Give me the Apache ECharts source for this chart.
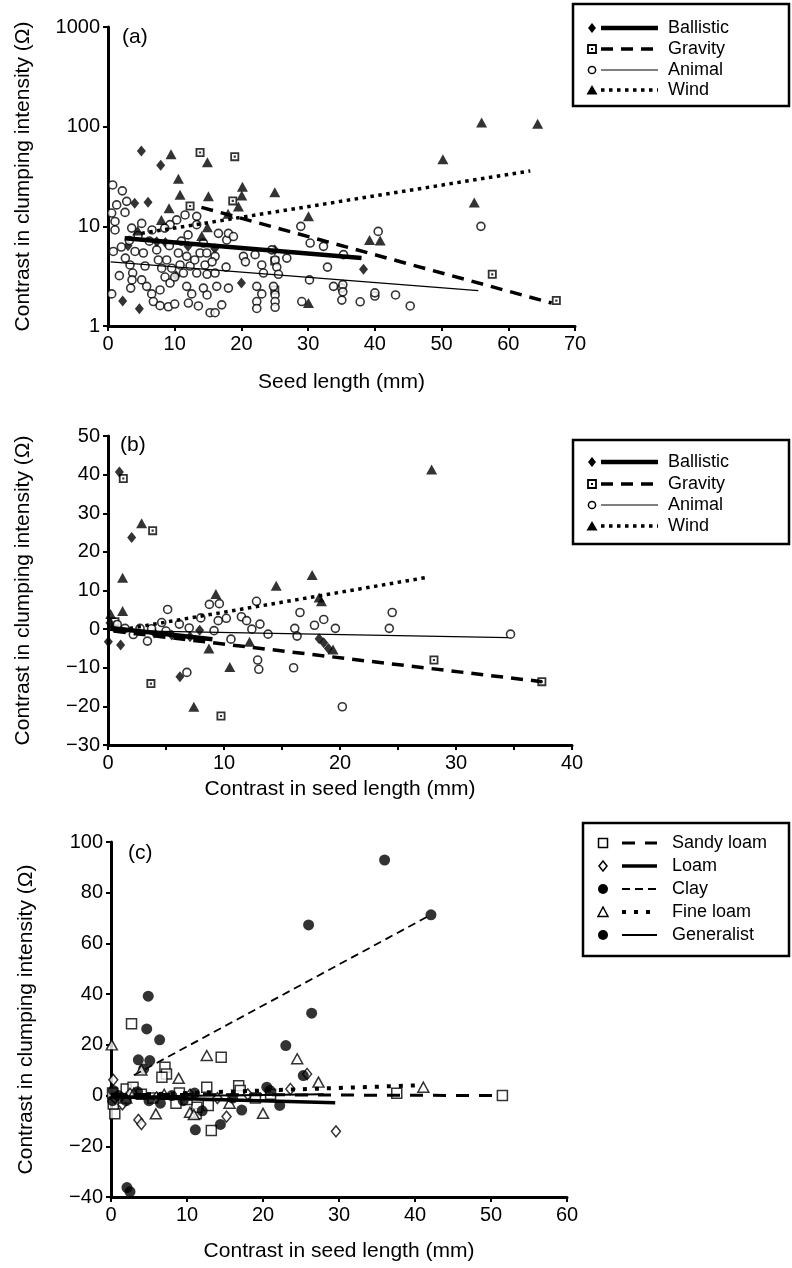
<!DOCTYPE html>
<html><head><meta charset="utf-8">
<script src="https://cdn.jsdelivr.net/npm/echarts@6/dist/echarts.min.js"></script>
<style>html,body{margin:0;padding:0;background:#fff}#c{width:792px;height:1268px}</style>
</head><body><div id="c"></div><script>
// ---------- Panel (a): seed length vs clumping intensity (log y) ----------
const aBallistic = [[5,57],[7.9,41],[4,17],[6,17.4],[2.2,1.78],[4.7,1.49],[3,6.4],[7.3,7.0],[8.6,6.9],[10.2,3.2],[20,2.7],[25,5.8],[38.3,3.7],[12,6.3],[16,6.0]];
const aGravity = [[13.8,55],[19,50],[12.3,16],[18.7,18],[57.6,3.3],[67.2,1.8],[25,4.5],[25,2.3]];
const aAnimal = [
[0.7,26],[2.15,22.7],[1.3,16.4],[0.55,13.6],[2.8,17.8],[2.55,13.8],[1.05,11.2],[1.05,9.2],[3.55,9.6],[5.05,10.7],
[0.8,5.6],[1.7,3.2],[0.55,2.1],[4.05,5.6],[3.3,4.1],[3.7,3.4],[3.4,2.4],[5.3,5.4],[5.55,4.0],[5.05,2.9],
[5.8,2.5],[6.55,2.1],[6.8,1.76],[7.8,1.6],[9.05,1.56],[10,1.66],[7.3,5.8],[7.55,4.6],[8.05,3.8],[8.55,3.1],
[9.3,2.7],[9.55,3.8],[8.8,4.6],[10,3.1],[7.8,2.3],[10.3,11.6],[9.3,10.4],[11.55,13],[13.3,12.6],[10.55,5.4],
[11.8,5.0],[10.8,4.1],[12.3,4.0],[11.3,3.4],[11.8,2.5],[12.55,2.1],[12.05,1.7],[13.55,1.59],[13.3,10.4],[14.3,6.8],
[13.8,5.4],[14.8,5.4],[14.55,4.1],[13.3,3.4],[14.85,3.3],[14.3,2.4],[14.85,2.05],[15.3,1.36],[16.05,1.36],[16.05,5.0],
[16.05,3.4],[16.3,2.5],[17.05,1.63],[16.55,8.5],[17.8,7.3],[18.05,8.5],[17.7,3.9],[18.05,2.4],[18.8,7.9],[20.3,5.0],
[22.05,5.2],[23.05,4.1],[23.3,3.4],[22.3,2.5],[23.05,2.1],[22.3,1.76],[22.3,1.5],[24.55,5.8],[25.05,4.6],[25.3,3.9],
[25.55,3.3],[24.8,2.5],[25.05,2.05],[25.05,1.76],[25.05,1.54],[26.8,4.8],[28.9,10],[30.3,6.8],[32.3,6.3],[32.9,3.9],
[30.2,2.9],[29.05,1.76],[33.8,2.5],[35.05,2.4],[35.05,1.82],[35.2,2.6],[35.2,2.2],[37.8,1.75],[35.3,5.2],[40,2.0],
[40,2.15],[40.5,8.9],[43.1,2.05],[45.3,1.59],[55.9,10],
[2,6.2],[3.2,7.2],[4.5,8.1],[6.2,7.1],[6.6,9.2],[8.5,9.6],[12,8.2],[3.6,2.9],[2.6,4.8],[9.2,6.4],[11,7.1],[13,4.6],[15.6,4.4],[20.6,4.4]
];
const aWind = [[9.45,53],[14.9,44],[10.55,30],[10.8,20.7],[15.05,20],[20.15,25],[20.05,20.4],[19.55,15.8],[9.15,15.2],[4.45,9.1],
[14.05,8],[14.9,9.8],[30.05,12.6],[30.05,1.7],[25,22],[8,11.6],[18,13.4],[56,110],[64.4,107],[50.2,47],[54.9,17.3],[39.2,7.3],[40.8,7.2]];
const aBallisticFit = [[2.5,7.6],[38,4.8]];
const aGravityFit = [[14,15.5],[66.5,1.7]];
const aAnimalFit = [[0.4,4.4],[55.5,2.26]];
const aWindFit = [[5,8.5],[63.3,36]];
const aXTicks = {min:0, max:70, interval:10};
const aYTicks = {min:1, max:1000};

// ---------- Panel (b): contrasts by dispersal mode ----------
const bBallistic = [[0.98,40.7],[2.04,23.7],[1.09,-4.1],[0.03,-3.3],[0.17,1.6],[6.2,-12.3],[7.07,-2],[7.9,-0.3],[4,-1],[5.5,-1.5],[18.2,-2.5],[18.6,-3.5],[19,-5],[0.5,0.5]];
const bGravity = [[1.32,39],[3.85,25.5],[3.7,-14.1],[9.74,-22.5],[28.1,-8],[37.4,-13.6],[0.6,1.9]];
const bAnimal = [[5.14,5.1],[4.63,1.7],[6.15,1.3],[3.4,-3.1],[2.18,-1.4],[1.47,0.2],[2.76,0.2],[3.76,0.1],[8.74,6.4],[9.6,6.6],
[8.0,2.9],[9.5,2.2],[10.2,2.8],[9.14,-0.4],[10.6,-2.6],[11.5,3.2],[11.95,2.2],[12.4,0],[13.1,1.3],[13.8,-1.3],
[12.8,7.2],[12.9,-8],[13,-10.4],[16,-10],[16.1,0.2],[16.3,-1.8],[16.55,4.3],[17.8,1],[18.6,2.5],[19.6,0.2],
[6.8,-11.2],[20.2,-20.1],[24.5,4.3],[24.25,0.2],[34.7,-1.3],[0.8,1.2],[5,-0.5],[7,0.3]];
const bWind = [[0.23,3.9],[1.26,4.7],[1.26,13.3],[2.9,27.4],[9.3,9.1],[14.5,11.2],[17.6,14],[18.2,8.2],[18.4,7.2],[8.7,-5],
[7.4,-20.1],[10.5,-9.8],[19.4,-5.3],[27.9,41.3],[12.2,-3.3]];
const bBallisticFit = [[0.2,0.3],[9,-2.6]];
const bGravityFit = [[0.5,-0.5],[37.4,-13.6]];
const bAnimalFit = [[0,-0.3],[34.5,-2.2]];
const bWindFit = [[0.5,-0.5],[27.5,13.4]];
const bXTicks = {min:0, max:40, interval:5, labelEvery:10};
const bYTicks = {min:-30, max:50, interval:10};

// ---------- Panel (c): contrasts by soil type ----------
const cSandy = [[2.7,28.3],[14.5,15.1],[7.1,11.2],[7.3,8.5],[2,2.6],[2.9,3.3],[6.7,7.2],[8.55,-3],[12.6,3.3],[12.8,-3.9],
[16.8,3.9],[17,2],[13.2,-13.8],[11.2,-7.2],[11.3,-4.6],[0.5,-7.2],[0.3,-3.3],[37.6,0.9],[51.5,0],[4,0.5],
[5.5,-1],[9,1],[10,-1.5],[19,-1],[21,0.5],[0.2,1]];
const cLoam = [[0.3,6.2],[1.5,-3.5],[3.6,-9.6],[4,-11.2],[15.2,-8.3],[23.6,2.6],[25.8,8.5],[29.6,-14.1],[2.5,0.7],[6,-0.7],
[10.4,0.4],[14,-1],[18,0.5],[0.5,-1]];
const cClay = [[36,92.9],[42.1,71.3],[26,67.3],[26.4,32.5],[23,19.7],[25.3,7.9],[4.9,39.2],[4.7,26.3],[6.4,22],[3.6,14.1],
[5.1,13.8],[4.3,10.5],[2.1,-36.3],[2.5,-37.9]];
const cFine = [[0.1,20],[12.6,15.8],[24.5,14.5],[27.3,5.3],[8.9,6.8],[4,10.1],[5.9,-7.2],[20,-7],[15.6,-3],[41.1,3.3],
[10.4,-6.6],[10.9,-7.5],[3,1],[7,0.5],[2,-1]];
const cGeneral = [[11.1,-13.5],[14.4,-11.4],[17.2,-5.7],[22.2,-3.9],[20.5,3.3],[20.9,2],[1,0],[2,-2],[3.5,1.5],[5,-2],
[6.5,-3],[8,0],[9.5,-2],[11,1],[12,-6],[16,-1],[0.3,2],[0.2,-2]];
const cSandyFit = [[0,0.5],[51,0]];
const cLoamFit = [[0,-0.5],[29.5,-2.8]];
const cClayFit = [[3,8],[42.1,71.3]];
const cFineFit = [[0,0],[40,4]];
const cGeneralFit = [[0,-0.5],[28,0.5]];
const cXTicks = {min:0, max:60, interval:10};
const cYTicks = {min:-40, max:100, interval:20};

const yTitle = 'Contrast in clumping intensity (Ω)';
const xTitles = ['Seed length (mm)', 'Contrast in seed length (mm)', 'Contrast in seed length (mm)'];
const legendA = ['Ballistic','Gravity','Animal','Wind'];
const legendC = ['Sandy loam','Loam','Clay','Fine loam','Generalist'];

// ---------- styling ----------
const FONT = '"Liberation Sans", Arial, Helvetica, sans-serif';
const K = '#000';
const minus = v => String(v).replace('-', '\u2212');
const SQDOT = 'path://M0,0H10V10H0Z M2,2V8H8V2Z M3.8,3.8H6.2V6.2H3.8Z';

const sym = {
  diamond: {symbol:'diamond', symbolSize:[9,11], itemStyle:{color:K}},
  sqdot: {symbol:SQDOT, symbolSize:9, itemStyle:{color:K}},
  ocircle: {symbol:'circle', symbolSize:8, itemStyle:{color:'#fff', borderColor:K, borderWidth:1.6}},
  ftri: {symbol:'triangle', symbolSize:[11,10], itemStyle:{color:K}},
  osquare: {symbol:'rect', symbolSize:10, itemStyle:{color:'#fff', borderColor:K, borderWidth:1.5}},
  odiamond: {symbol:'diamond', symbolSize:[9,11], itemStyle:{color:'#fff', borderColor:K, borderWidth:1.5}},
  fcircle: {symbol:'circle', symbolSize:11, itemStyle:{color:K}},
  otri: {symbol:'triangle', symbolSize:[11,10], itemStyle:{color:'#fff', borderColor:K, borderWidth:1.5}}
};
const ls = {
  ballistic: {width:4.5, type:'solid'},
  gravity: {width:3.5, type:[12,8]},
  animal: {width:1.2, type:'solid'},
  wind: {width:3.5, type:[3.5,4.5]},
  sandy: {width:3, type:[13,10]},
  loam: {width:3.5, type:'solid'},
  clay: {width:1.8, type:[8,5]},
  fine: {width:4, type:[4,8]},
  general: {width:2, type:'solid'}
};

function scatter(name, idx, data, s){
  return Object.assign({type:'scatter', name, xAxisIndex:idx, yAxisIndex:idx, data, clip:false, z:3}, JSON.parse(JSON.stringify(s)));
}
function fit(name, idx, data, l){
  return {type:'line', name:name+' fit', xAxisIndex:idx, yAxisIndex:idx, data, symbol:'none', showSymbol:false,
    lineStyle:{color:K, width:l.width, type:l.type, cap:'butt'}, z:4, silent:true};
}
function axisBase(){
  return {
    axisLine:{show:true, onZero:false, lineStyle:{color:K, width:3}},
    axisTick:{show:true, inside:false, length:5, lineStyle:{color:K, width:2}},
    splitLine:{show:false},
    axisLabel:{color:K, fontSize:20, fontFamily:FONT, margin:8},
    nameTextStyle:{color:K, fontSize:21, fontFamily:FONT}
  };
}
function xAx(idx, t, gap){
  return Object.assign(axisBase(), {type:'value', gridIndex:idx, min:t.min, max:t.max, interval:t.interval,
    name:xTitles[idx], nameLocation:'middle', nameGap:gap,
    axisLabel:Object.assign(axisBase().axisLabel, {formatter: v => (t.labelEvery && v % t.labelEvery !== 0) ? '' : minus(v)})});
}
function yAx(idx, t, gap){
  return Object.assign(axisBase(), {type:'value', gridIndex:idx, min:t.min, max:t.max, interval:t.interval,
    name:yTitle, nameLocation:'middle', nameGap:gap, nameRotate:90,
    axisLabel:Object.assign(axisBase().axisLabel, {formatter: v => minus(v)})});
}

const grids = [
  {left:108, top:27, width:467, height:299},
  {left:108, top:436, width:464, height:309},
  {left:111, top:842, width:456, height:355}
];

const yA = yAx(0, aYTicks, 74);
yA.type = 'log'; yA.logBase = 10; delete yA.interval;
yA.axisLabel.formatter = v => String(Math.round(v));

const series = [
  scatter('Ballistic',0,aBallistic,sym.diamond), scatter('Gravity',0,aGravity,sym.sqdot),
  scatter('Animal',0,aAnimal,sym.ocircle), scatter('Wind',0,aWind,sym.ftri),
  fit('Ballistic',0,aBallisticFit,ls.ballistic), fit('Gravity',0,aGravityFit,ls.gravity),
  fit('Animal',0,aAnimalFit,ls.animal), fit('Wind',0,aWindFit,ls.wind),
  scatter('Ballistic',1,bBallistic,sym.diamond), scatter('Gravity',1,bGravity,sym.sqdot),
  scatter('Animal',1,bAnimal,sym.ocircle), scatter('Wind',1,bWind,sym.ftri),
  fit('Ballistic',1,bBallisticFit,ls.ballistic), fit('Gravity',1,bGravityFit,ls.gravity),
  fit('Animal',1,bAnimalFit,ls.animal), fit('Wind',1,bWindFit,ls.wind),
  scatter('Sandy loam',2,cSandy,sym.osquare), scatter('Loam',2,cLoam,sym.odiamond),
  scatter('Clay',2,cClay,sym.fcircle), scatter('Fine loam',2,cFine,sym.otri),
  scatter('Generalist',2,cGeneral,sym.fcircle),
  fit('Sandy loam',2,cSandyFit,ls.sandy), fit('Loam',2,cLoamFit,ls.loam),
  fit('Clay',2,cClayFit,ls.clay), fit('Fine loam',2,cFineFit,ls.fine),
  fit('Generalist',2,cGeneralFit,ls.general)
];

// ---------- legends drawn as graphic boxes ----------
function marker(kind, cx, cy){
  const st = {fill:K, stroke:K, lineWidth:0};
  const open = {fill:'#fff', stroke:K, lineWidth:1.5};
  switch(kind){
    case 'diamond': return [{type:'polygon', shape:{points:[[cx,cy-5],[cx+4,cy],[cx,cy+5],[cx-4,cy]]}, style:st}];
    case 'odiamond': return [{type:'polygon', shape:{points:[[cx,cy-5],[cx+4,cy],[cx,cy+5],[cx-4,cy]]}, style:open}];
    case 'sqdot': return [
      {type:'rect', shape:{x:cx-4,y:cy-4,width:8,height:8}, style:{fill:'#fff',stroke:K,lineWidth:1.8}},
      {type:'rect', shape:{x:cx-1,y:cy-1,width:2,height:2}, style:st}];
    case 'osquare': return [{type:'rect', shape:{x:cx-4.5,y:cy-4.5,width:9,height:9}, style:open}];
    case 'ocircle': return [{type:'circle', shape:{cx,cy,r:3.6}, style:open}];
    case 'fcircle': return [{type:'circle', shape:{cx,cy,r:5}, style:st}];
    case 'ftri': return [{type:'polygon', shape:{points:[[cx,cy-5],[cx+5.5,cy+4.5],[cx-5.5,cy+4.5]]}, style:st}];
    case 'otri': return [{type:'polygon', shape:{points:[[cx,cy-5],[cx+5,cy+4.5],[cx-5,cy+4.5]]}, style:open}];
  }
}
function legendBox(box, mx, lx1, lx2, tx, rows){
  const els = [{type:'rect', shape:box, style:{fill:'#fff', stroke:K, lineWidth:2.5}, z:10}];
  rows.forEach(r => {
    marker(r.m, mx, r.y).forEach((m,i) => { m.z = 11; m.zlevel = 0; m.z2 = i; els.push(m); });
    els.push({type:'line', shape:{x1:lx1, y1:r.y, x2:lx2, y2:r.y}, z:11,
      style:{stroke:K, lineWidth:r.l.width, lineDash: Array.isArray(r.l.type) ? r.l.type : null}});
    els.push({type:'text', x:tx, y:r.y, z:11, style:{text:r.t, fill:K, font:'18px '+FONT, textVerticalAlign:'middle'}});
  });
  return els;
}
const dispMarkers = ['diamond','sqdot','ocircle','ftri'];
const dispLines = [ls.ballistic, ls.gravity, ls.animal, ls.wind];
const soilMarkers = ['osquare','odiamond','fcircle','otri','fcircle'];
const soilLines = [ls.sandy, ls.loam, ls.clay, ls.fine, ls.general];
const rowsA = legendA.map((t,i)=>({t, m:dispMarkers[i], l:dispLines[i], y:[28,49,70,90][i]}));
const rowsB = legendA.map((t,i)=>({t, m:dispMarkers[i], l:dispLines[i], y:[462,484,505,526][i]}));
const rowsC = legendC.map((t,i)=>({t, m:soilMarkers[i], l:soilLines[i], y:[843,866,889,912,935][i]}));

const graphic = [].concat(
  legendBox({x:573,y:4,width:216,height:102}, 592, 601, 658, 668, rowsA),
  legendBox({x:573,y:440,width:216,height:104}, 592, 601, 658, 668, rowsB),
  legendBox({x:583,y:823,width:206,height:133}, 603, 622, 657, 672, rowsC),
  [
    {type:'text', x:122, y:37, style:{text:'(a)', fill:K, font:'21px '+FONT, textVerticalAlign:'middle'}},
    {type:'text', x:120, y:445, style:{text:'(b)', fill:K, font:'21px '+FONT, textVerticalAlign:'middle'}},
    {type:'text', x:128, y:853, style:{text:'(c)', fill:K, font:'21px '+FONT, textVerticalAlign:'middle'}}
  ]
);

const chart = echarts.init(document.getElementById('c'), null, {renderer:'canvas'});
chart.setOption({
  backgroundColor:'#fff',
  animation:false,
  grid: grids,
  xAxis: [xAx(0, aXTicks, 46), xAx(1, bXTicks, 34), xAx(2, cXTicks, 44)],
  yAxis: [yA, yAx(1, bYTicks, 74), yAx(2, cYTicks, 74)],
  series,
  graphic
});
</script></body></html>
